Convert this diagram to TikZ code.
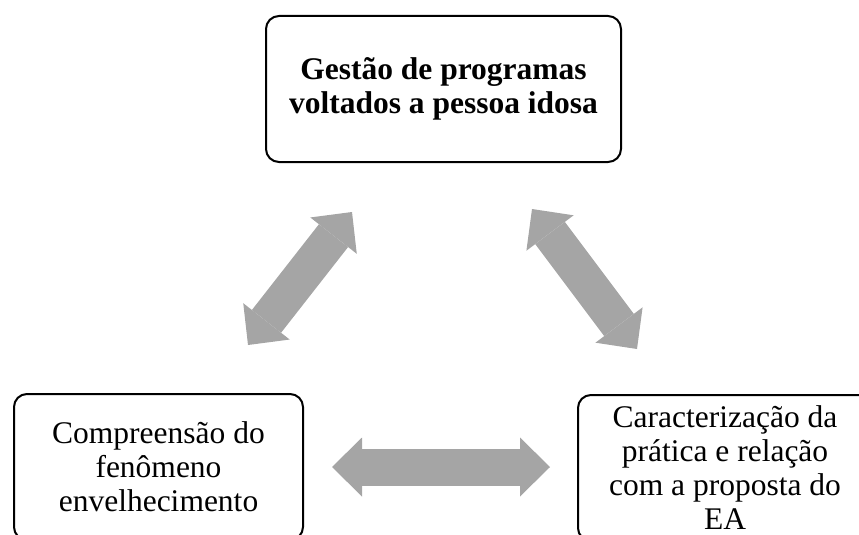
\documentclass[tikz,border=0pt]{standalone}
\usepackage{fontspec}
\setmainfont{Liberation Serif}
\usepackage{xcolor}
\usetikzlibrary{positioning,arrows.meta}
\definecolor{linkgray}{RGB}{165,165,165}

\begin{document}
\begin{tikzpicture}[x=1pt, y=-1pt,
        topic/.style={rectangle, rounded corners=13pt, draw=black, line width=2pt, fill=white, align=center, inner sep=2pt, minimum height=146pt, font=\fontsize{31.5}{34}\selectfont},
        link/.style={draw=linkgray, line width=37pt, {Triangle[length=30pt, width=59pt, line width=0pt]}-{Triangle[length=30pt, width=59pt, line width=0pt]}}
    ]
        \useasboundingbox (0,0) rectangle (859,535);
        \clip (0,0) rectangle (859,535);

        % Topics
        \node[topic, minimum width=355pt, font=\fontsize{31.5}{34}\selectfont\bfseries] (gestao) at (443.5,89) {Gestão de programas\\voltados a pessoa idosa};
        \node[topic, minimum width=289pt] (compreensao) at (158.5,467) {Compreensão do\\fenômeno\\envelhecimento};
        \node[topic, minimum width=294pt] (pratica) at (725,468) {Caracterização da\\prática e relação\\com a proposta do\\EA};

        % Links
        \coordinate (l1a) at (248,345);
        \coordinate (l1b) at (352,212);
        \coordinate (l2a) at (532,209);
        \coordinate (l2b) at (637,349);
        \coordinate (l3a) at (332,467);
        \coordinate (l3b) at (550,467);
        \draw[link] (l1a) -- (l1b);
        \draw[link] (l2a) -- (l2b);
        \draw[link] (l3a) -- (l3b);
    \end{tikzpicture}
\end{document}
